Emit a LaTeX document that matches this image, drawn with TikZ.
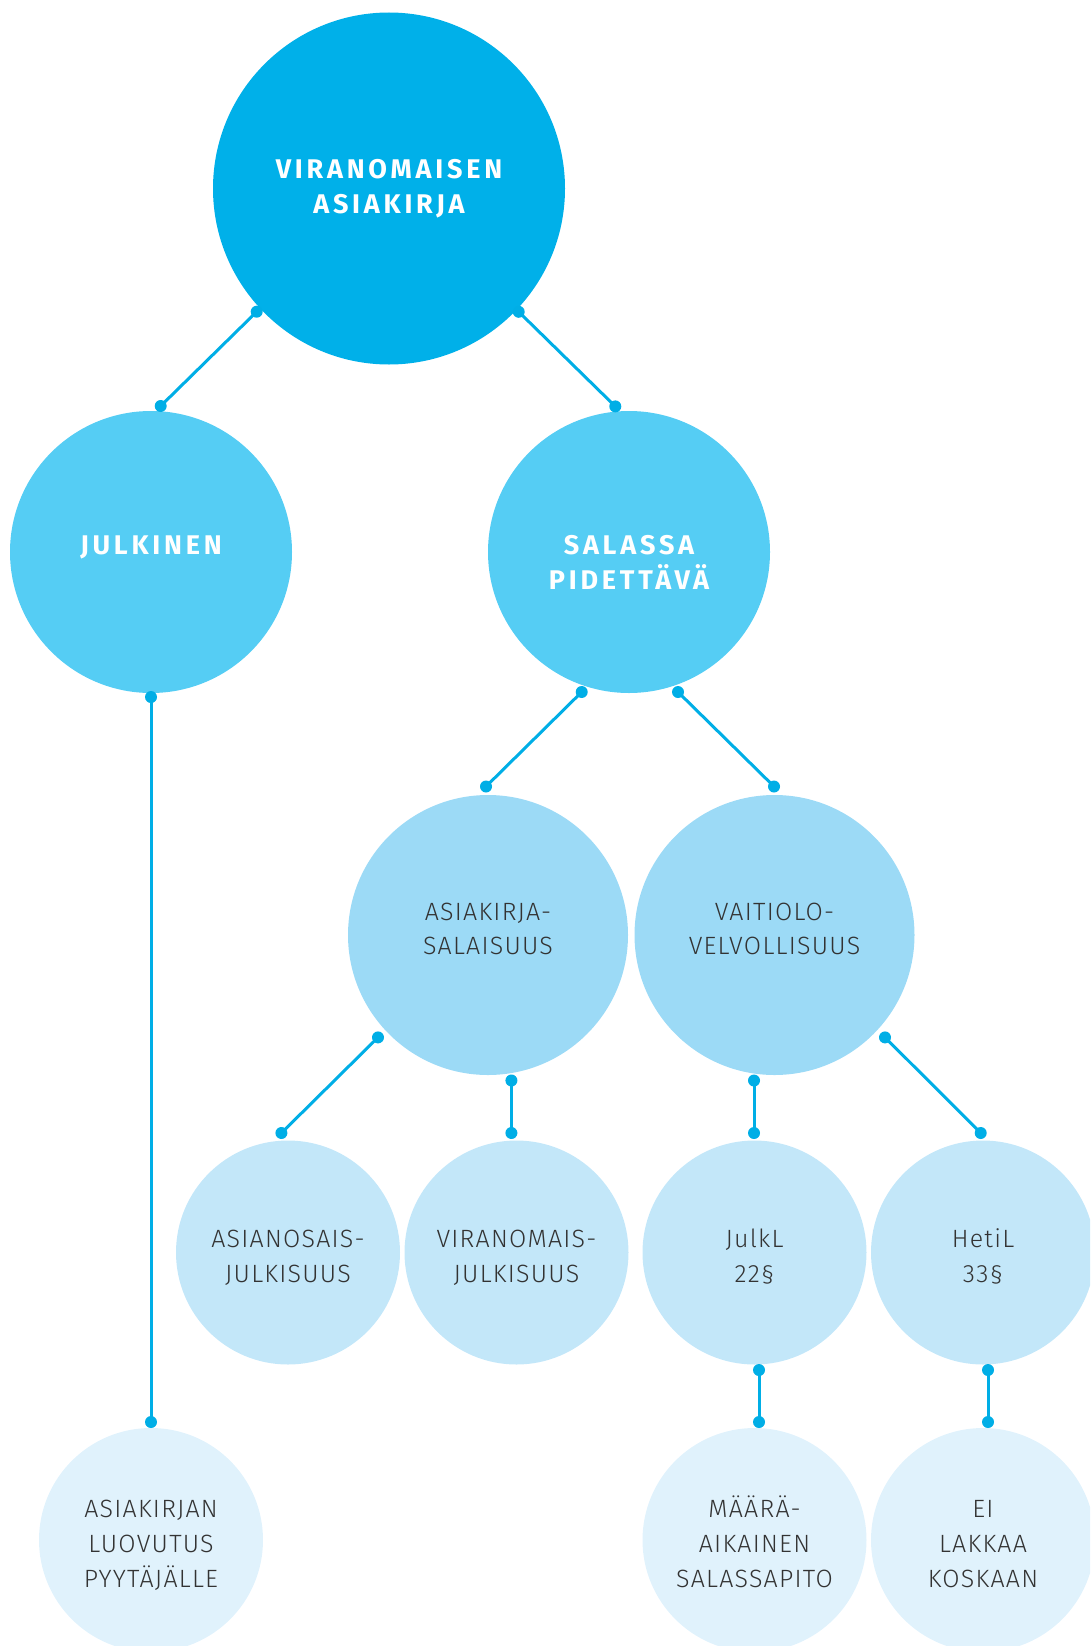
\documentclass[tikz,border=0pt]{standalone}
\usepackage{fontspec}
\setmainfont{Fira Sans}
\newfontfamily\headfont{Fira Sans Bold}[LetterSpace=14]
\newfontfamily\lightfont{Fira Sans Light}[LetterSpace=5]
\usetikzlibrary{calc}
\definecolor{cA}{HTML}{00B0E9}
\definecolor{cB}{HTML}{55CDF4}
\definecolor{cC}{HTML}{9CDAF6}
\definecolor{cD}{HTML}{C3E7F9}
\definecolor{cE}{HTML}{E0F2FC}
\definecolor{cLine}{HTML}{00AEE6}
\definecolor{cTxt}{HTML}{333333}
% fixed first-line height and last-line depth, to place text inside circles
\newcommand\hfix[1]{\rule{0pt}{#1pt}}
\newcommand\dfix[1]{\rule[-#1pt]{0pt}{0pt}}
\newcommand\linkdots[2]{\draw[conn] (#1) -- (#2); \fill[cLine] (#1) circle (6pt) (#2) circle (6pt);}
\begin{document}
\begin{tikzpicture}[x=1pt,y=-1pt,
  lvl/.style={circle, inner sep=0pt, align=center},
  bigtxt/.style={font=\headfont\fontsize{27}{34.7}\selectfont, text=white},
  smalltxt/.style={font=\lightfont\fontsize{25}{34.7}\selectfont, text=cTxt},
  lA/.style={lvl, bigtxt, fill=cA, minimum size=352pt},
  lB/.style={lvl, bigtxt, fill=cB, minimum size=282pt},
  lC/.style={lvl, smalltxt, fill=cC, minimum size=280pt},
  lD/.style={lvl, smalltxt, fill=cD, minimum size=224pt},
  lE/.style={lvl, smalltxt, fill=cE, minimum size=224pt},
  conn/.style={draw=cLine, line width=3pt}]
\useasboundingbox (0,0) rectangle (1090,1646);
\clip (0,0) rectangle (1090,1646);
% circles
\node[lA] (top) at (389,188.5) {VIRANOMAISEN\\ASIAKIRJA};
\node[lB] (jul) at (151,552) {\hfix{23.2}JULKINEN\dfix{18.6}};
\node[lB] (sal) at (629,552) {\hfix{39.3}SALASSA\\PIDETTÄVÄ};
\node[lC] (aks) at (488,935) {\hfix{20}ASIAKIRJA-\\SALAISUUS\dfix{15.3}};
\node[lC] (vai) at (774.5,935) {\hfix{20}VAITIOLO-\\VELVOLLISUUS\dfix{15.3}};
\node[lD] (aso) at (288,1252.5) {\hfix{30}ASIANOSAIS-\\JULKISUUS\dfix{5.1}};
\node[lD] (vij) at (516.5,1252.5) {\hfix{30}VIRANOMAIS-\\JULKISUUS\dfix{5.1}};
\node[lD] (jlk) at (754.5,1252.5) {\hfix{30}JulkL\\22§\dfix{5.1}};
\node[lD] (het) at (983,1252.5) {\hfix{30}HetiL\\33§\dfix{5.1}};
\node[lE] (luo) at (151,1540) {\hfix{30}ASIAKIRJAN\\LUOVUTUS\\PYYTÄJÄLLE\dfix{5.4}};
\node[lE] (maa) at (754.5,1540) {\hfix{30}MÄÄRÄ-\\AIKAINEN\\SALASSAPITO\dfix{5.4}};
\node[lE] (eil) at (983,1540) {\hfix{30}EI\\LAKKAA\\KOSKAAN\dfix{5.4}};
% connector end points
\coordinate (t1) at ($(top)+(-132.3,123.2)$);
\coordinate (j1) at ($(jul)+(9.7,-146)$);
\coordinate (t2) at ($(top)+(129.7,123.3)$);
\coordinate (s1) at ($(sal)+(-13.7,-145.6)$);
\coordinate (j2) at ($(jul)+(0,145)$);
\coordinate (l1) at ($(luo)+(0,-118)$);
\coordinate (s2) at ($(sal)+(-47.3,140)$);
\coordinate (a1) at ($(aks)+(-2,-148.5)$);
\coordinate (s3) at ($(sal)+(49,140)$);
\coordinate (v1) at ($(vai)+(-0.5,-148.5)$);
\coordinate (a2) at ($(aks)+(-110,102.4)$);
\coordinate (o1) at ($(aso)+(-6.6,-119.5)$);
\coordinate (a3) at ($(aks)+(23.4,145.5)$);
\coordinate (w1) at ($(vij)+(-5.1,-119.5)$);
\coordinate (v2) at ($(vai)+(-20.5,145.5)$);
\coordinate (k1) at ($(jlk)+(-0.5,-119.5)$);
\coordinate (v3) at ($(vai)+(110.5,102.4)$);
\coordinate (h1) at ($(het)+(-2.3,-119.5)$);
\coordinate (k2) at ($(jlk)+(4.5,117.5)$);
\coordinate (m1) at ($(maa)+(4.5,-118)$);
\coordinate (h2) at ($(het)+(5,117.5)$);
\coordinate (e1) at ($(eil)+(5,-118)$);
% connectors
\linkdots{t1}{j1}
\linkdots{t2}{s1}
\linkdots{j2}{l1}
\linkdots{s2}{a1}
\linkdots{s3}{v1}
\linkdots{a2}{o1}
\linkdots{a3}{w1}
\linkdots{v2}{k1}
\linkdots{v3}{h1}
\linkdots{k2}{m1}
\linkdots{h2}{e1}
\end{tikzpicture}
\end{document}
